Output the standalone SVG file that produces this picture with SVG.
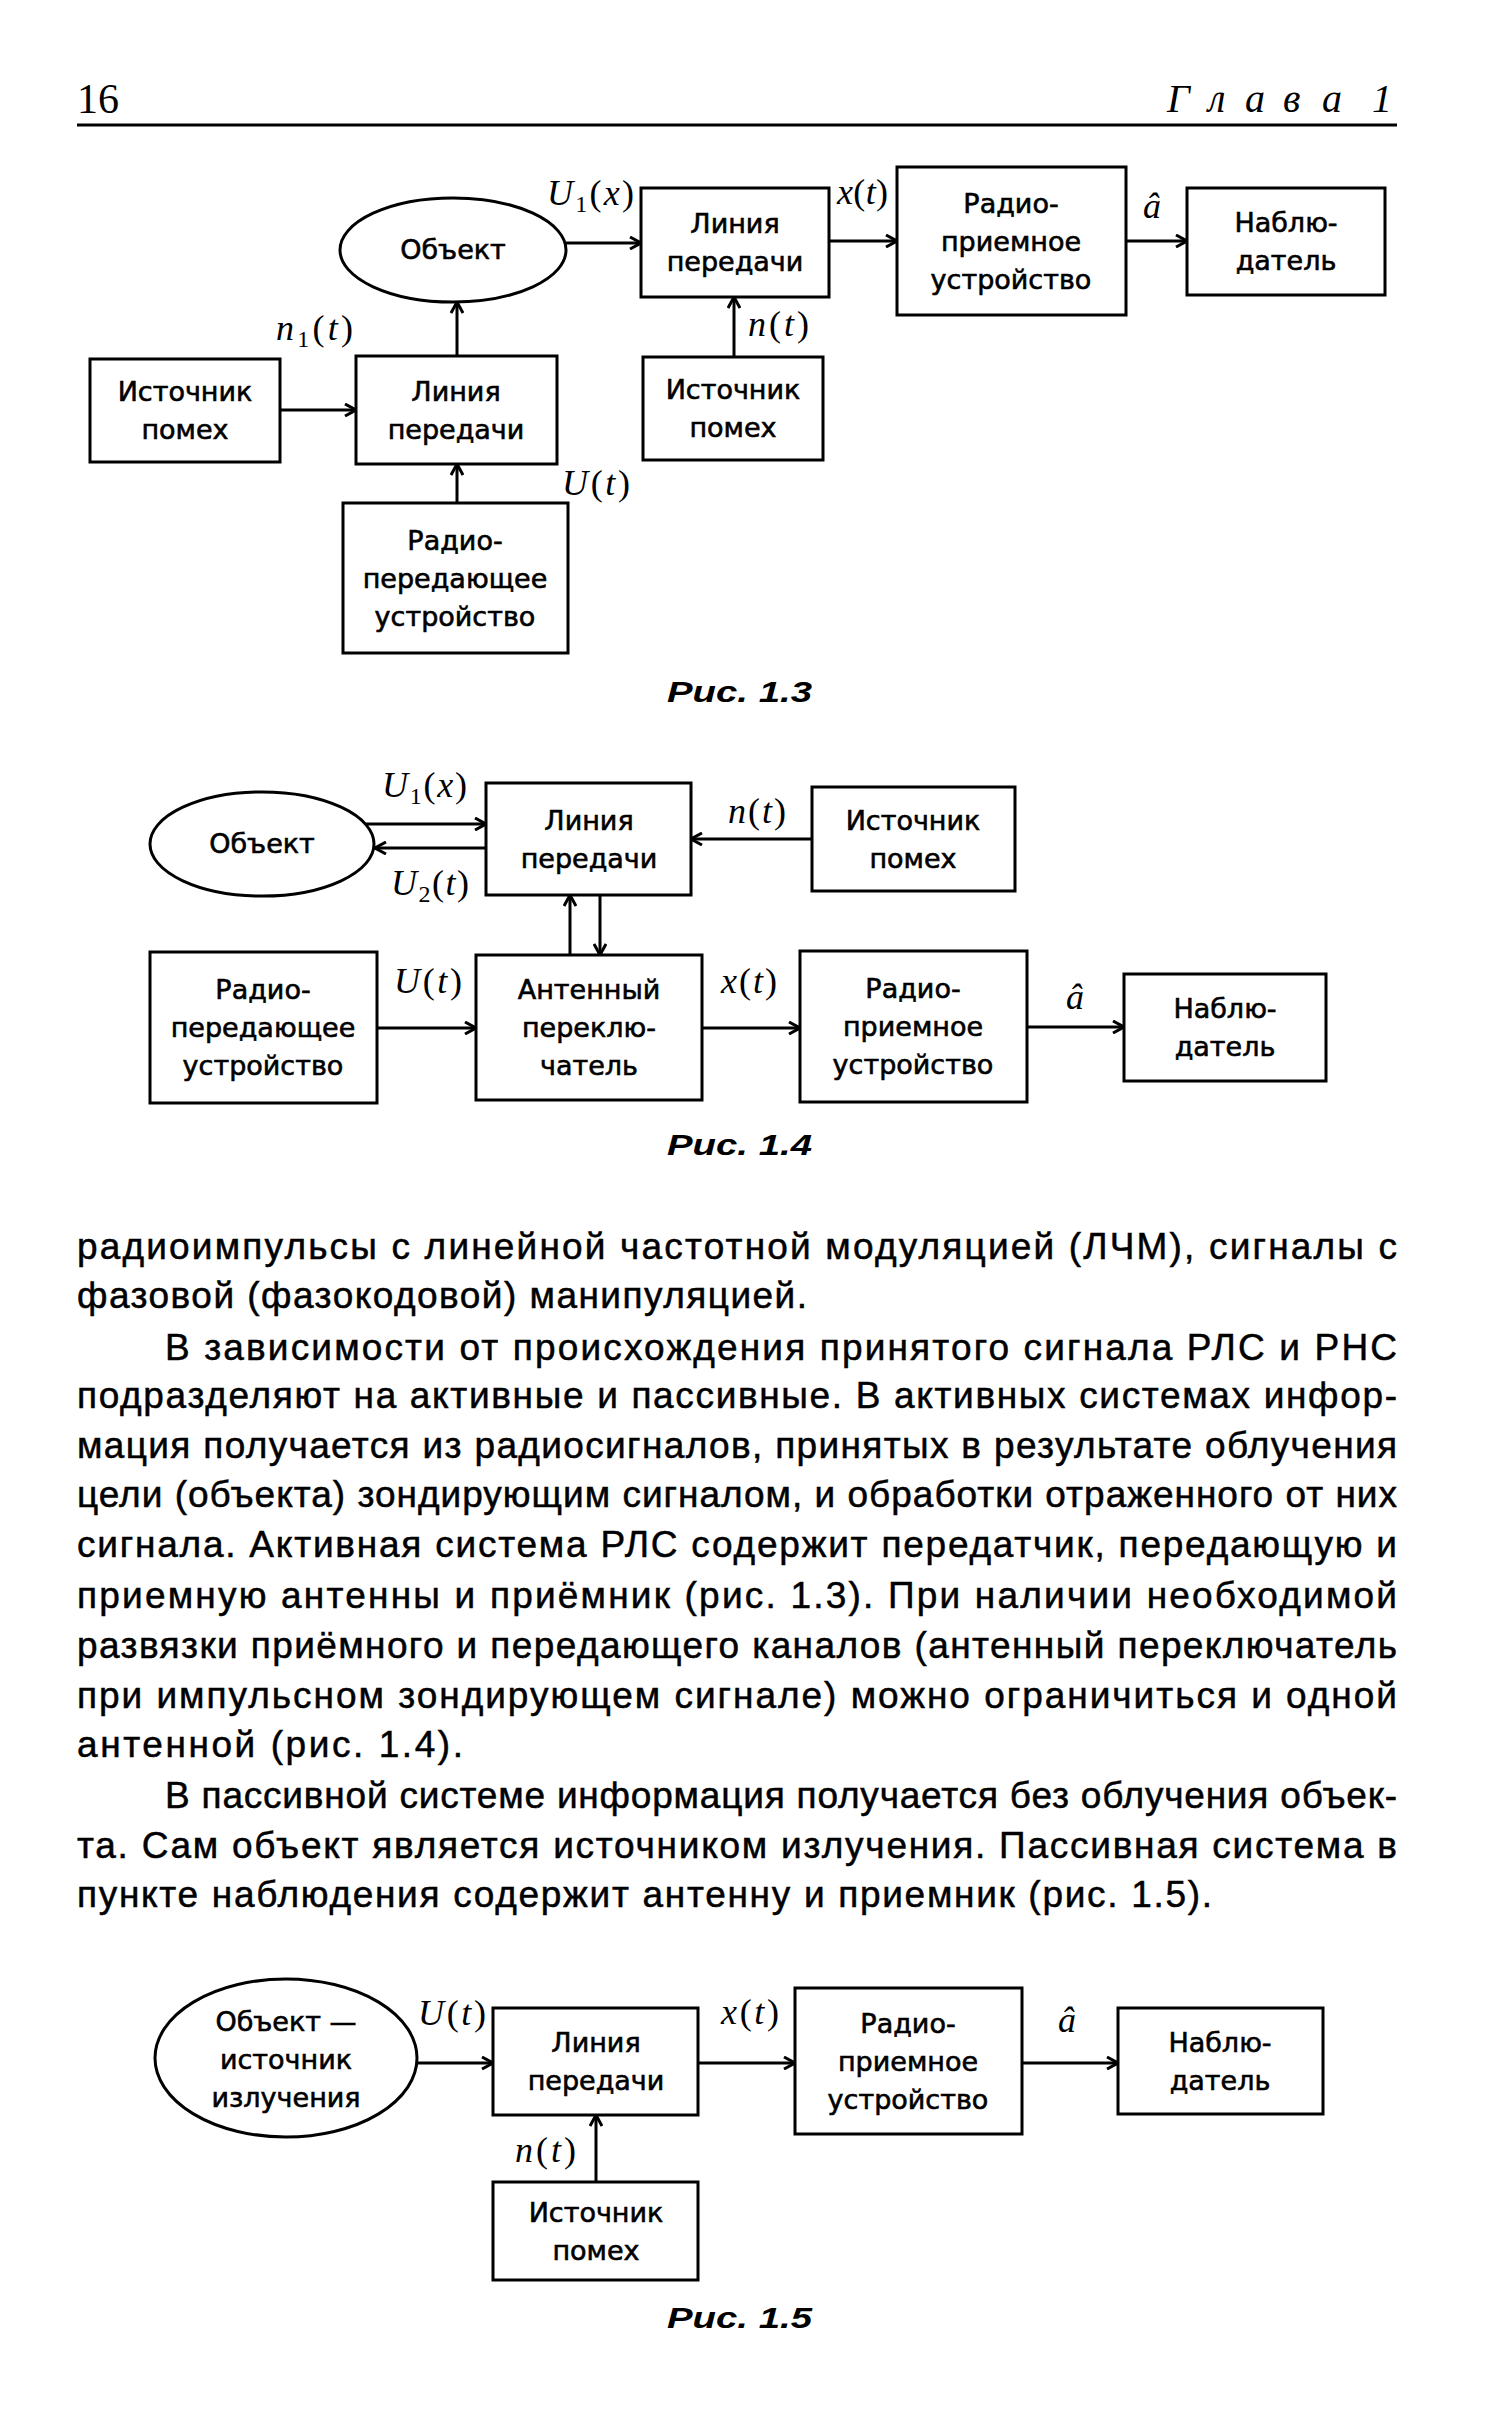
<svg xmlns="http://www.w3.org/2000/svg" width="1496" height="2418" viewBox="0 0 1496 2418">
<defs>
<style>
.b{fill:none;stroke:#000;stroke-width:3}
.c{fill:none;stroke:#000;stroke-width:3;marker-end:url(#ah)}
.t{font-family:"DejaVu Sans","Liberation Sans",sans-serif;font-size:27px;text-anchor:middle;fill:#000;stroke:#000;stroke-width:0.6}
.m{font-family:"Liberation Serif","DejaVu Serif",serif;font-style:italic;font-size:36px;fill:#000}
.u{font-style:normal}
.s{font-style:normal;font-size:24px}
.cap{font-family:"Liberation Sans",Arial,sans-serif;font-weight:bold;font-style:italic;font-size:30px;fill:#000}
.p{font-family:"Liberation Sans",Arial,sans-serif;font-size:37px;fill:#000;stroke:#000;stroke-width:0.5}
</style>
<marker id="ah" viewBox="0 0 14 14" refX="13" refY="7" markerWidth="14" markerHeight="14" markerUnits="userSpaceOnUse" orient="auto">
<path d="M2,1 L13,7 L2,13" fill="none" stroke="#000" stroke-width="3"/>
</marker>
</defs>
<rect width="1496" height="2418" fill="#fff"/>

<g id="header">
<text x="77" y="113" font-family="Liberation Serif,serif" font-size="42">16</text>
<text x="1167 1208 1245 1283 1322 1372" y="112" font-family="Liberation Serif,serif" font-style="italic" font-size="40">Глава1</text>
<line x1="77" y1="125" x2="1397" y2="125" stroke="#000" stroke-width="3"/>
</g>

<!-- Figure 1.3 -->
<g id="fig13-src1"><rect class="b" x="90" y="359" width="190" height="103"/><text class="t" x="185" y="401">Источник</text><text class="t" x="185" y="439">помех</text></g>
<g id="fig13-line1"><rect class="b" x="356" y="356" width="201" height="108"/><text class="t" x="456" y="401">Линия</text><text class="t" x="456" y="439">передачи</text></g>
<g id="fig13-tx"><rect class="b" x="343" y="503" width="225" height="150"/><text class="t" x="455" y="550">Радио-</text><text class="t" x="455" y="588">передающее</text><text class="t" x="455" y="626">устройство</text></g>
<g id="fig13-obj"><ellipse class="b" cx="453" cy="250" rx="113" ry="52"/><text class="t" x="453" y="259">Объект</text></g>
<g id="fig13-line2"><rect class="b" x="641" y="188" width="188" height="109"/><text class="t" x="735" y="233">Линия</text><text class="t" x="735" y="271">передачи</text></g>
<g id="fig13-src2"><rect class="b" x="643" y="357" width="180" height="103"/><text class="t" x="733" y="399">Источник</text><text class="t" x="733" y="437">помех</text></g>
<g id="fig13-rx"><rect class="b" x="897" y="167" width="229" height="148"/><text class="t" x="1011" y="213">Радио-</text><text class="t" x="1011" y="251">приемное</text><text class="t" x="1011" y="289">устройство</text></g>
<g id="fig13-obs"><rect class="b" x="1187" y="188" width="198" height="107"/><text class="t" x="1286" y="232">Наблю-</text><text class="t" x="1286" y="270">датель</text></g>
<g id="fig13-connectors">
<path class="c" d="M280,410 H356"/>
<path class="c" d="M457,356 V302"/>
<path class="c" d="M457,503 V464"/>
<path class="c" d="M566,243 H641"/>
<path class="c" d="M734,357 V297"/>
<path class="c" d="M829,241 H897"/>
<path class="c" d="M1126,241 H1187"/>
</g>
<g id="fig13-labels">
<text class="m" x="547" y="205" textLength="87" lengthAdjust="spacing">U<tspan class="s" dy="7">1</tspan><tspan class="u" dy="-7">(</tspan>x<tspan class="u">)</tspan></text>
<text class="m" x="837" y="204" textLength="51" lengthAdjust="spacing"><tspan>x</tspan><tspan class="u">(</tspan>t<tspan class="u">)</tspan></text>
<text class="m" x="1143" y="218">â</text>
<text class="m" x="276" y="340" textLength="77" lengthAdjust="spacing">n<tspan class="s" dy="7">1</tspan><tspan class="u" dy="-7">(</tspan>t<tspan class="u">)</tspan></text>
<text class="m" x="748" y="336" textLength="61" lengthAdjust="spacing">n<tspan class="u">(</tspan>t<tspan class="u">)</tspan></text>
<text class="m" x="562" y="495" textLength="68" lengthAdjust="spacing">U<tspan class="u">(</tspan>t<tspan class="u">)</tspan></text>
</g>
<text class="cap" x="667" y="702" textLength="145" lengthAdjust="spacingAndGlyphs">Рис. 1.3</text>

<!-- Figure 1.4 -->
<g id="fig14-obj"><ellipse class="b" cx="262" cy="844" rx="112" ry="52"/><text class="t" x="262" y="853">Объект</text></g>
<g id="fig14-line"><rect class="b" x="486" y="783" width="205" height="112"/><text class="t" x="589" y="830">Линия</text><text class="t" x="589" y="868">передачи</text></g>
<g id="fig14-src"><rect class="b" x="812" y="787" width="203" height="104"/><text class="t" x="913" y="830">Источник</text><text class="t" x="913" y="868">помех</text></g>
<g id="fig14-tx"><rect class="b" x="150" y="952" width="227" height="151"/><text class="t" x="263" y="999">Радио-</text><text class="t" x="263" y="1037">передающее</text><text class="t" x="263" y="1075">устройство</text></g>
<g id="fig14-ant"><rect class="b" x="476" y="955" width="226" height="145"/><text class="t" x="589" y="999">Антенный</text><text class="t" x="589" y="1037">переклю-</text><text class="t" x="589" y="1075">чатель</text></g>
<g id="fig14-rx"><rect class="b" x="800" y="951" width="227" height="151"/><text class="t" x="913" y="998">Радио-</text><text class="t" x="913" y="1036">приемное</text><text class="t" x="913" y="1074">устройство</text></g>
<g id="fig14-obs"><rect class="b" x="1124" y="974" width="202" height="107"/><text class="t" x="1225" y="1018">Наблю-</text><text class="t" x="1225" y="1056">датель</text></g>
<g id="fig14-connectors">
<path class="c" d="M366,824 H486"/>
<path class="c" d="M486,848 H375"/>
<path class="c" d="M812,839 H691"/>
<path class="c" d="M570,955 V895"/>
<path class="c" d="M600,895 V955"/>
<path class="c" d="M377,1028 H476"/>
<path class="c" d="M702,1028 H800"/>
<path class="c" d="M1027,1027 H1124"/>
</g>
<g id="fig14-labels">
<text class="m" x="382" y="797" textLength="85" lengthAdjust="spacing">U<tspan class="s" dy="7">1</tspan><tspan class="u" dy="-7">(</tspan>x<tspan class="u">)</tspan></text>
<text class="m" x="391" y="895" textLength="78" lengthAdjust="spacing">U<tspan class="s" dy="7">2</tspan><tspan class="u" dy="-7">(</tspan>t<tspan class="u">)</tspan></text>
<text class="m" x="728" y="823" textLength="58" lengthAdjust="spacing">n<tspan class="u">(</tspan>t<tspan class="u">)</tspan></text>
<text class="m" x="394" y="993" textLength="68" lengthAdjust="spacing">U<tspan class="u">(</tspan>t<tspan class="u">)</tspan></text>
<text class="m" x="721" y="993" textLength="56" lengthAdjust="spacing">x<tspan class="u">(</tspan>t<tspan class="u">)</tspan></text>
<text class="m" x="1066" y="1009">â</text>
</g>
<text class="cap" x="667" y="1155" textLength="145" lengthAdjust="spacingAndGlyphs">Рис. 1.4</text>

<!-- Body text -->
<g id="body">
<text class="p" x="77" y="1259" textLength="1320" lengthAdjust="spacing">радиоимпульсы с линейной частотной модуляцией (ЛЧМ), сигналы с</text>
<text class="p" x="77" y="1308" textLength="730" lengthAdjust="spacing">фазовой (фазокодовой) манипуляцией.</text>
<text class="p" x="165" y="1360" textLength="1232" lengthAdjust="spacing">В зависимости от происхождения принятого сигнала РЛС и РНС</text>
<text class="p" x="77" y="1408" textLength="1320" lengthAdjust="spacing">подразделяют на активные и пассивные. В активных системах инфор-</text>
<text class="p" x="77" y="1458" textLength="1320" lengthAdjust="spacing">мация получается из радиосигналов, принятых в результате облучения</text>
<text class="p" x="77" y="1507" textLength="1320" lengthAdjust="spacing">цели (объекта) зондирующим сигналом, и обработки отраженного от них</text>
<text class="p" x="77" y="1557" textLength="1320" lengthAdjust="spacing">сигнала. Активная система РЛС содержит передатчик, передающую и</text>
<text class="p" x="77" y="1608" textLength="1320" lengthAdjust="spacing">приемную антенны и приёмник (рис. 1.3). При наличии необходимой</text>
<text class="p" x="77" y="1658" textLength="1320" lengthAdjust="spacing">развязки приёмного и передающего каналов (антенный переключатель</text>
<text class="p" x="77" y="1708" textLength="1320" lengthAdjust="spacing">при импульсном зондирующем сигнале) можно ограничиться и одной</text>
<text class="p" x="77" y="1757" textLength="386" lengthAdjust="spacing">антенной (рис. 1.4).</text>
<text class="p" x="165" y="1808" textLength="1232" lengthAdjust="spacing">В пассивной системе информация получается без облучения объек-</text>
<text class="p" x="77" y="1858" textLength="1320" lengthAdjust="spacing">та. Сам объект является источником излучения. Пассивная система в</text>
<text class="p" x="77" y="1907" textLength="1135" lengthAdjust="spacing">пункте наблюдения содержит антенну и приемник (рис. 1.5).</text>
</g>

<!-- Figure 1.5 -->
<g id="fig15-obj"><ellipse class="b" cx="286" cy="2058" rx="131" ry="79"/><text class="t" x="286" y="2031">Объект —</text><text class="t" x="286" y="2069">источник</text><text class="t" x="286" y="2107">излучения</text></g>
<g id="fig15-line"><rect class="b" x="493" y="2008" width="205" height="107"/><text class="t" x="596" y="2052">Линия</text><text class="t" x="596" y="2090">передачи</text></g>
<g id="fig15-src"><rect class="b" x="493" y="2182" width="205" height="98"/><text class="t" x="596" y="2222">Источник</text><text class="t" x="596" y="2260">помех</text></g>
<g id="fig15-rx"><rect class="b" x="795" y="1988" width="227" height="146"/><text class="t" x="908" y="2033">Радио-</text><text class="t" x="908" y="2071">приемное</text><text class="t" x="908" y="2109">устройство</text></g>
<g id="fig15-obs"><rect class="b" x="1118" y="2008" width="205" height="106"/><text class="t" x="1220" y="2052">Наблю-</text><text class="t" x="1220" y="2090">датель</text></g>
<g id="fig15-connectors">
<path class="c" d="M417,2063 H493"/>
<path class="c" d="M596,2182 V2115"/>
<path class="c" d="M698,2063 H795"/>
<path class="c" d="M1022,2063 H1118"/>
</g>
<g id="fig15-labels">
<text class="m" x="418" y="2025" textLength="68" lengthAdjust="spacing">U<tspan class="u">(</tspan>t<tspan class="u">)</tspan></text>
<text class="m" x="721" y="2024" textLength="58" lengthAdjust="spacing">x<tspan class="u">(</tspan>t<tspan class="u">)</tspan></text>
<text class="m" x="1058" y="2032">â</text>
<text class="m" x="515" y="2162" textLength="61" lengthAdjust="spacing">n<tspan class="u">(</tspan>t<tspan class="u">)</tspan></text>
</g>
<text class="cap" x="667" y="2328" textLength="145" lengthAdjust="spacingAndGlyphs">Рис. 1.5</text>
</svg>
